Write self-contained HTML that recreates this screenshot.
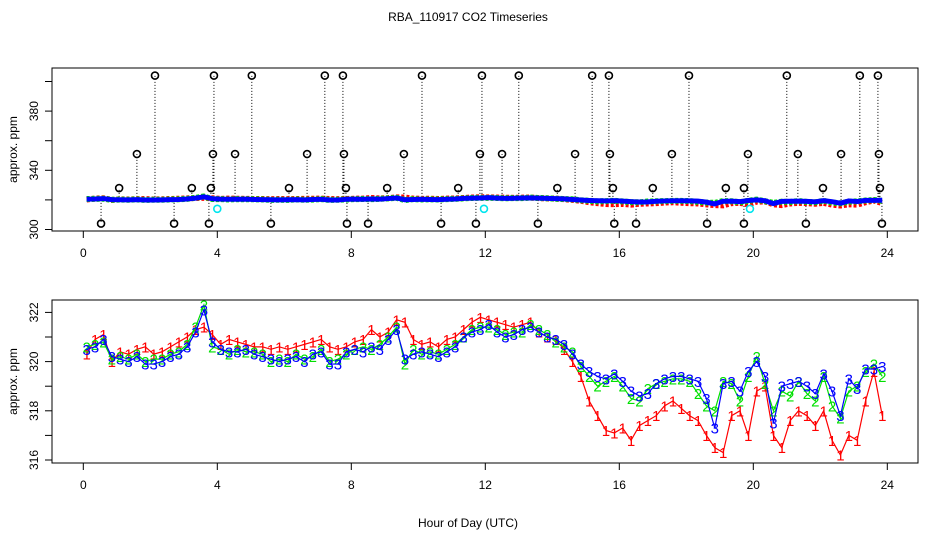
<!DOCTYPE html>
<html><head><meta charset="utf-8">
<style>
html,body{margin:0;padding:0;background:#fff;}
svg{display:block;font-family:"Liberation Sans",sans-serif;}
</style></head>
<body>
<svg id="chart" width="936" height="540" viewBox="0 0 936 540" xmlns="http://www.w3.org/2000/svg">
<text x="468" y="21" font-size="12" text-anchor="middle">RBA_110917  CO2 Timeseries</text>
<text x="468" y="527" font-size="12" text-anchor="middle">Hour of Day (UTC)</text>
<g id="top"></g>
<g id="bot"></g>
</svg>
<script>
const xTicks = [0,4,8,12,16,20,24];
const topYTicks = [300,320,340,360,380,400];
const topYLabels = [300,340,380];
const botYTicks = [316,317,318,319,320,321,322];
const botYLabels = [316,318,320,322];
const startHour = 0.1, stepHour = 0.25;
const series1 = [320.3,320.9,321.1,320.0,320.4,320.3,320.5,320.6,320.3,320.4,320.6,320.8,
321.0,321.3,321.4,321.1,320.7,320.9,320.8,320.7,320.6,320.6,320.5,320.6,
320.5,320.6,320.7,320.8,320.9,320.6,320.5,320.6,
320.8,320.9,321.3,321.0,321.2,321.7,321.6,320.9,320.7,320.8,320.6,320.9,321.0,321.3,321.6,321.8,
321.7,321.6,321.5,321.4,321.5,321.6,321.2,321.0,320.9,320.5,320.0,319.4,318.4,317.8,317.2,317.1,
317.3,316.8,317.4,317.6,317.8,318.2,318.4,318.1,317.8,317.6,317.0,316.5,316.3,317.8,318.0,317.0,
318.8,319.0,317.0,316.5,317.6,318.0,317.8,317.4,318.0,316.8,316.2,317.0,316.8,318.4,319.6,317.8];
const series2 = [320.6,320.7,320.8,320.1,320.2,320.1,320.3,320.0,320.1,320.1,320.3,320.4,
320.7,321.4,322.3,320.6,320.5,320.3,320.5,320.4,320.4,320.3,320.0,320.1,
320.0,320.3,320.1,320.2,320.5,320.0,320.1,320.3,
320.5,320.6,320.5,320.7,321.0,321.4,319.9,320.5,320.3,320.4,320.3,320.5,320.7,321.0,321.3,321.4,
321.4,321.3,321.1,321.2,321.2,321.5,321.3,321.1,320.8,320.6,320.4,319.8,319.4,319.0,319.2,319.4,
319.0,318.5,318.4,318.9,319.1,319.2,319.3,319.3,319.2,318.7,318.2,318.0,319.2,319.1,318.4,319.4,
320.2,319.1,318.0,318.8,318.6,319.2,318.7,318.4,319.4,318.2,317.7,318.8,319.0,319.6,319.9,319.4];
const series3 = [320.5,320.6,320.9,320.2,320.1,320.0,320.2,319.9,319.9,320.0,320.2,320.3,
320.6,321.2,322.1,320.8,320.5,320.4,320.4,320.5,320.3,320.2,320.1,320.0,
320.1,320.2,320.0,320.3,320.4,319.9,319.9,320.4,
320.5,320.4,320.6,320.5,320.9,321.3,320.1,320.3,320.4,320.3,320.2,320.4,320.6,321.0,321.2,321.3,
321.5,321.2,321.0,321.1,321.3,321.4,321.2,321.0,320.9,320.7,320.3,319.9,319.6,319.4,319.3,319.5,
319.2,318.8,318.6,318.7,319.1,319.3,319.4,319.4,319.3,319.2,318.5,317.3,319.1,319.2,318.8,319.6,
320.0,319.4,317.5,319.0,319.1,319.2,319.0,318.7,319.5,318.8,317.8,319.3,318.9,319.7,319.7,319.8];
const outlierHours = [2.14,3.90,5.03,7.21,7.75,10.11,11.9,13.0,15.19,15.69,18.08,21.0,23.18,23.72,
1.60,3.87,4.53,6.68,7.78,9.57,11.84,12.5,14.68,15.72,17.57,19.84,21.33,22.62,23.75,
1.07,3.24,3.81,6.14,7.84,9.07,11.19,14.15,15.81,17.0,19.18,19.72,22.08,23.78,
0.53,2.71,3.75,5.60,7.87,8.5,10.68,11.72,13.57,15.85,16.5,18.62,19.72,21.57,23.84];
const outlierValues = [404,404,404,404,404,404,404,404,404,404,404,404,404,404,
351,351,351,351,351,351,351,351,351,351,351,351,351,351,351,
328,328,328,328,328,328,328,328,328,328,328,328,328,328,
304,304,304,304,304,304,304,304,304,304,304,304,304,304,304];
const cyanHours = [4.0,11.96,19.9];
const cyanValues = [314,314,314];

const NS="http://www.w3.org/2000/svg";
function mk(tag,attrs,parent){const e=document.createElementNS(NS,tag);for(const k in attrs)e.setAttribute(k,attrs[k]);parent.appendChild(e);return e;}
const X=h=>83.3+h*33.5;
const Yt=v=>229.5-(v-300)*1.48;
const Yb=v=>460-(v-316)*24.6;
const hours=series3.map((_,i)=>startHour+i*stepHour);

function panel(g,top,bot,yTicks,yLabels,Y,prefix){
  const box=mk('rect',{x:52,y:top,width:866,height:bot-top,fill:'none',stroke:'#000','stroke-width':1},g);
  
  
  const xa=mk('g',{},g);
  
  
  mk('line',{x1:X(0),x2:X(24),y1:bot,y2:bot,stroke:'#000'},xa);
  xTicks.forEach(t=>{
    mk('line',{x1:X(t),x2:X(t),y1:bot,y2:bot+7,stroke:'#000'},xa);
    const tx=mk('text',{x:X(t),y:bot+26,'font-size':12,'text-anchor':'middle'},xa);
    tx.textContent=t;
    
    
  });
  const ya=mk('g',{},g);
  
  
  mk('line',{x1:52,x2:52,y1:Y(yTicks[0]),y2:Y(yTicks[yTicks.length-1]),stroke:'#000'},ya);
  yTicks.forEach(t=>{mk('line',{x1:45,x2:52,y1:Y(t),y2:Y(t),stroke:'#000'},ya);});
  yLabels.forEach(t=>{
    const tx=mk('text',{x:0,y:0,'font-size':12,'text-anchor':'middle',transform:`translate(38,${Y(t)}) rotate(-90)`},ya);
    tx.textContent=t;
    
    
  });
  const yt=mk('text',{x:0,y:0,'font-size':12,'text-anchor':'middle',transform:`translate(17,${(top+bot)/2}) rotate(-90)`},g);
  yt.textContent='approx. ppm';
  
  
}
const gt=document.getElementById('top'), gb=document.getElementById('bot');
panel(gt,68,231,topYTicks,topYLabels,Yt,'top');
panel(gb,300,463,botYTicks,botYLabels,Yb,'bottom');

// top panel
outlierHours.forEach((h,i)=>{
  const l=mk('line',{x1:X(h),x2:X(h),y1:Yt(320),y2:Yt(outlierValues[i]),stroke:'#000','stroke-dasharray':'1,2'},gt);
  
  
});
[[series1,'#f00'],[series2,'#00e000'],[series3,'#00f']].forEach(([s,c],k)=>{
  const pts=s.map((v,i)=>X(hours[i])+','+Yt(v)).join(' ');
  const p=mk('polyline',{points:pts,fill:'none',stroke:c,'stroke-width':k==2?5:6,'stroke-linejoin':'round','stroke-dasharray':k==2?'':'3,2'},gt);
  
  
});
outlierHours.forEach((h,i)=>{
  const c=mk('circle',{cx:X(h),cy:Yt(outlierValues[i]),r:3.5,fill:'none',stroke:'#000','stroke-width':1.6},gt);
  
  
});
cyanHours.forEach((h,i)=>{
  const c=mk('circle',{cx:X(h),cy:Yt(cyanValues[i]),r:3.5,fill:'none',stroke:'#00e5ee','stroke-width':1.6},gt);
  
  
});

// bottom panel
[[series1,'#f00','1'],[series2,'#00e000','2'],[series3,'#00f','3']].forEach(([s,c,ch],k)=>{
  const sg=mk('g',{},gb);
  
  
  const pts=s.map((v,i)=>X(hours[i])+','+Yb(v)).join(' ');
  mk('polyline',{points:pts,fill:'none',stroke:c,'stroke-width':1.2},sg);
  s.forEach((v,i)=>{
    const t=mk('text',{x:X(hours[i]),y:Yb(v)+5.5,'font-size':15,fill:c,'text-anchor':'middle'},sg);
    t.textContent=ch;
    
    
  });
});
</script>
</body></html>
